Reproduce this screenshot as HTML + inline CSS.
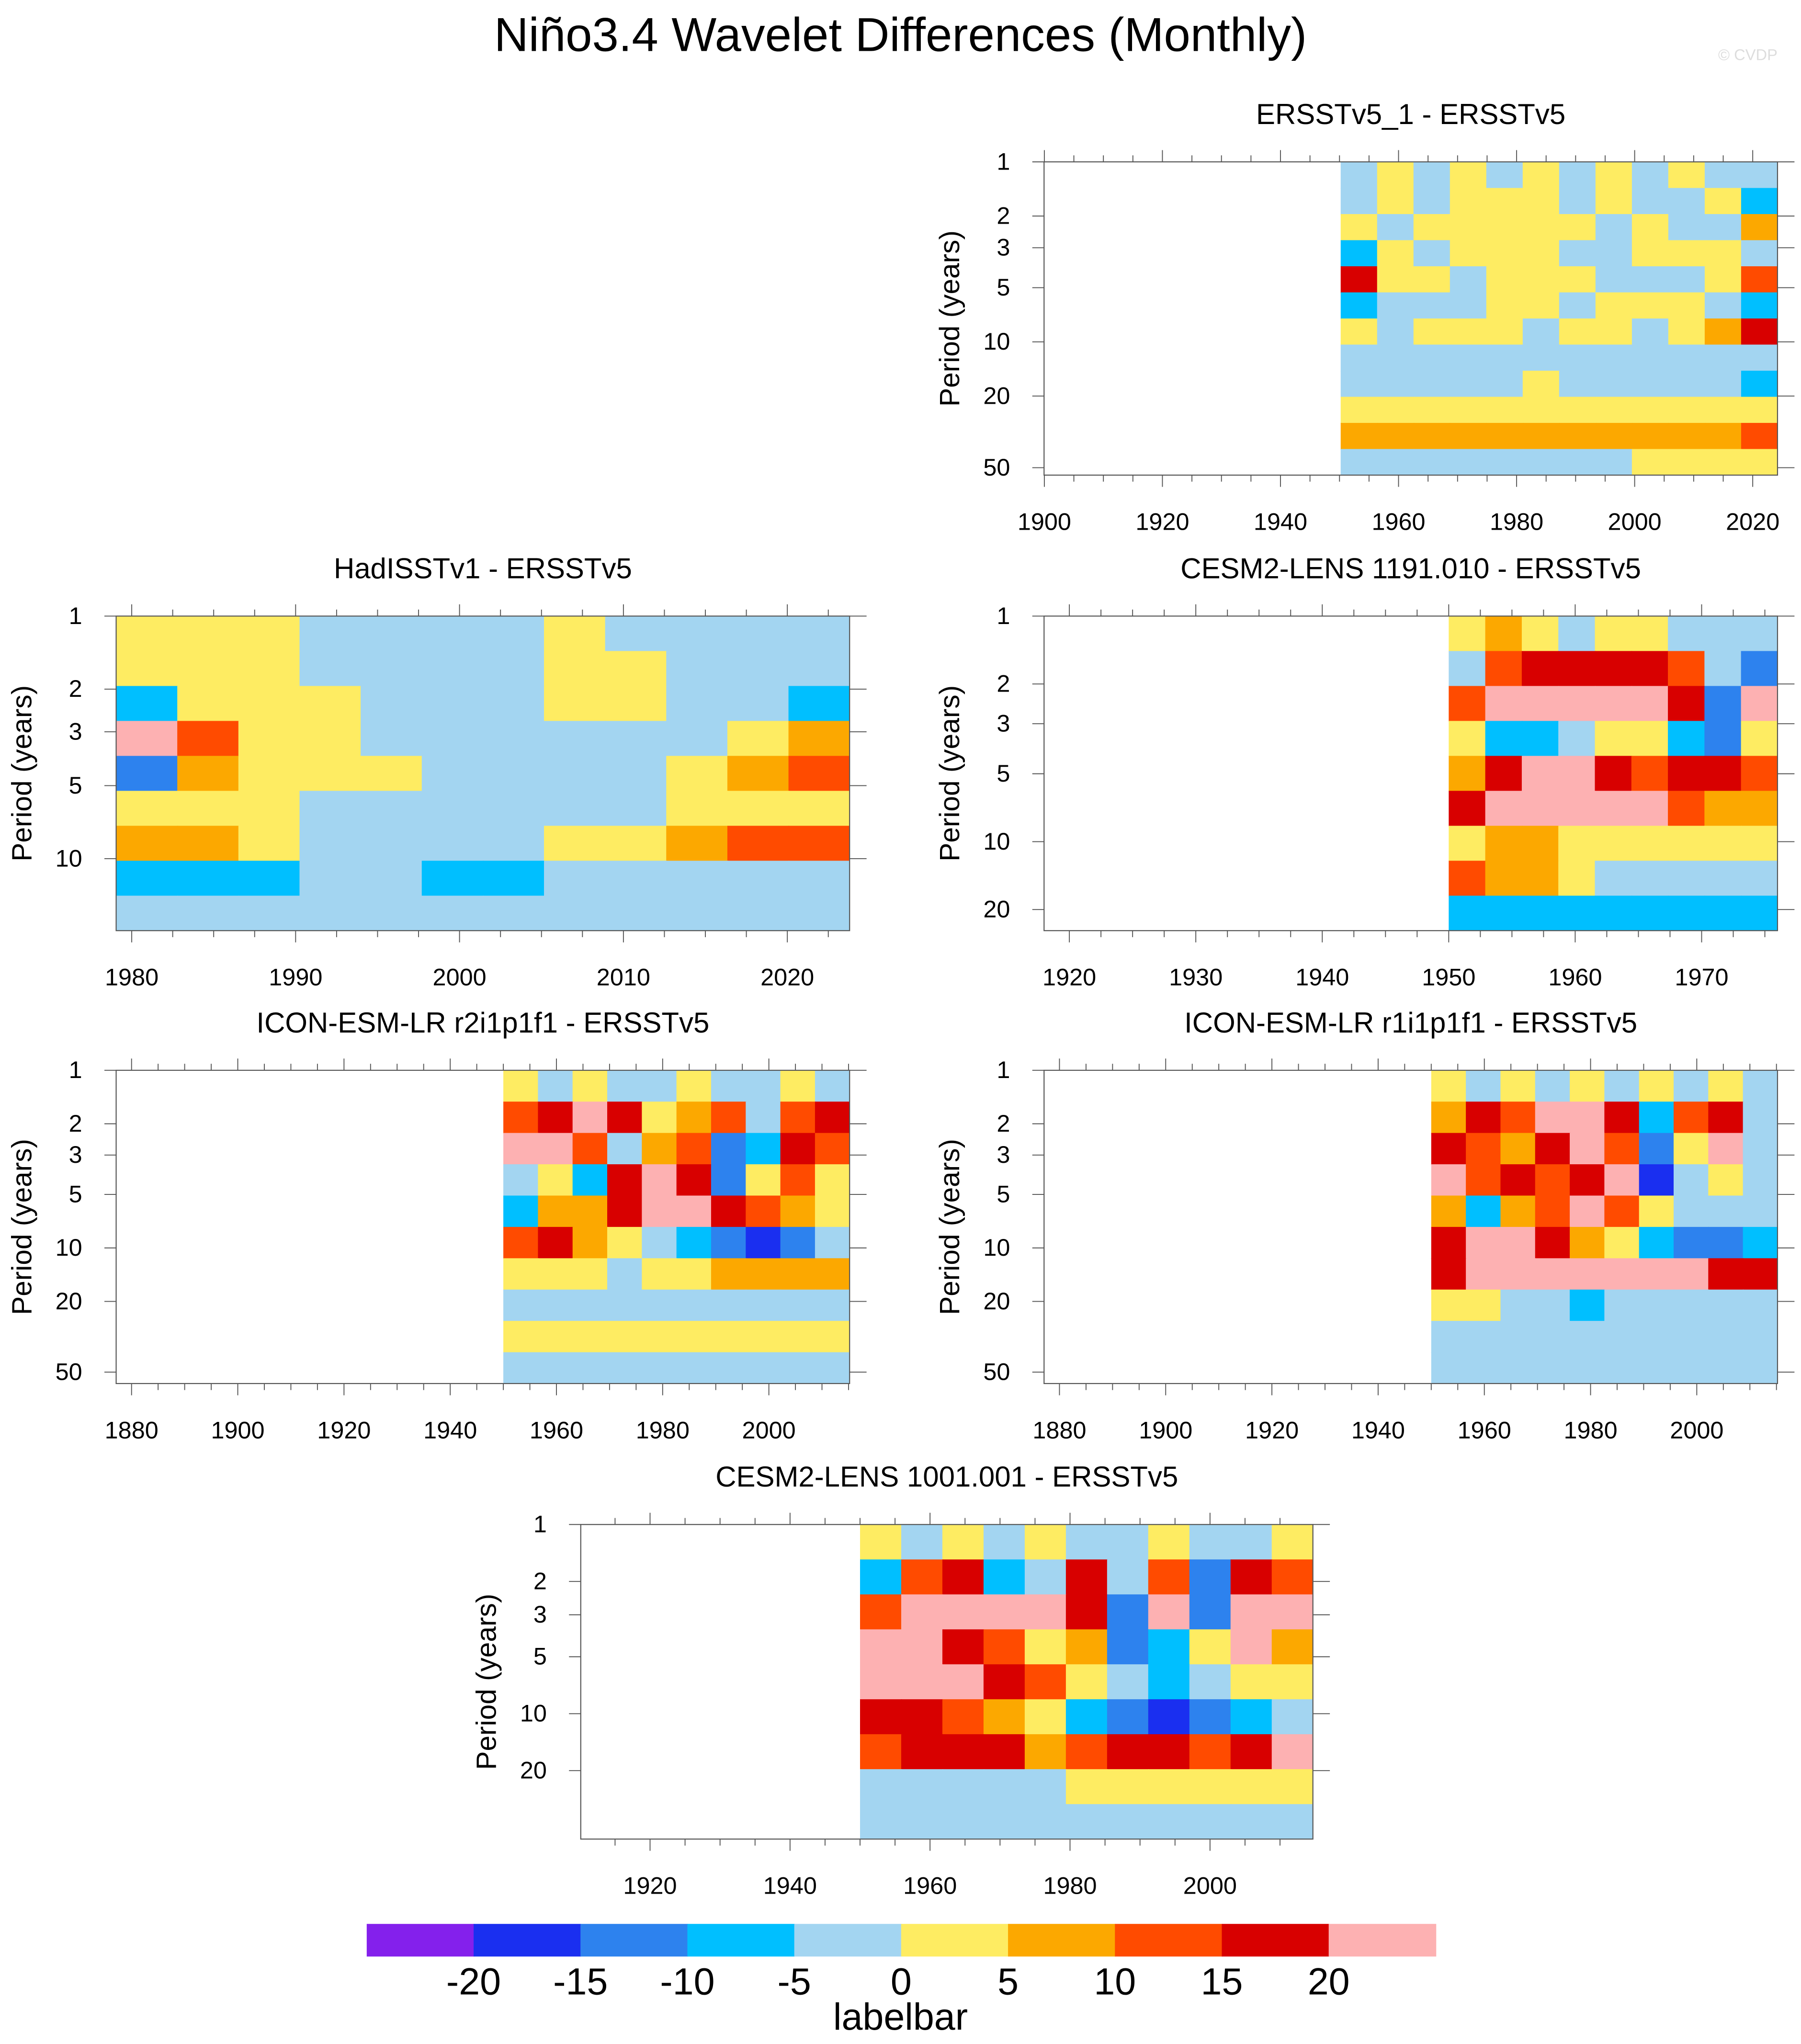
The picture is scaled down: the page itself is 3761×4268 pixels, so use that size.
<!DOCTYPE html>
<html><head><meta charset="utf-8"><style>
html,body{margin:0;padding:0;background:#fff;}
svg{display:block;font-family:"Liberation Sans",sans-serif;}
</style></head><body>
<svg id="chart" width="3761" height="4268" viewBox="0 0 1380 1566" xmlns="http://www.w3.org/2000/svg">
<text x="690" y="39" font-size="36.5" text-anchor="middle">Niño3.4 Wavelet Differences (Monthly)</text>
<text x="1362" y="46" font-size="12" fill="#ddd" text-anchor="end">© CVDP</text>
<g id="panels"></g>
<g id="cbar"></g>
</svg>
<script>
const levelColors = ["#8420ec","#1a2ff0","#2d82ee","#00bfff","#a3d5f1","#feec62","#fca800","#ff4b00","#d80000","#fdb1b2"];
const cbarLabels = ["-20","-15","-10","-5","0","5","10","15","20"];

const grid1 = [
[4,5,4,5,4,5,4,5,4,5,4,4],
[4,5,4,5,5,5,4,5,4,4,5,3],
[5,4,5,5,5,5,5,4,5,4,4,6],
[3,5,4,5,5,5,4,4,5,5,5,4],
[8,5,5,4,5,5,5,4,4,4,5,7],
[3,4,4,4,5,5,4,5,5,5,4,3],
[5,4,5,5,5,4,5,5,4,5,6,8],
[4,4,4,4,4,4,4,4,4,4,4,4],
[4,4,4,4,4,5,4,4,4,4,4,3],
[5,5,5,5,5,5,5,5,5,5,5,5],
[6,6,6,6,6,6,6,6,6,6,6,7],
[4,4,4,4,4,4,4,4,5,5,5,5]];
const grid2 = [
[5,5,5,4,4,4,4,5,4,4,4,4],
[5,5,5,4,4,4,4,5,5,4,4,4],
[3,5,5,5,4,4,4,5,5,4,4,3],
[9,7,5,5,4,4,4,4,4,4,5,6],
[2,6,5,5,5,4,4,4,4,5,6,7],
[5,5,5,4,4,4,4,4,4,5,5,5],
[6,6,5,4,4,4,4,5,5,6,7,7],
[3,3,3,4,4,3,3,4,4,4,4,4],
[4,4,4,4,4,4,4,4,4,4,4,4]];
const grid3 = [
[5,6,5,4,5,5,4,4,4],
[4,7,8,8,8,8,7,4,2],
[7,9,9,9,9,9,8,2,9],
[5,3,3,4,5,5,3,2,5],
[6,8,9,9,8,7,8,8,7],
[8,9,9,9,9,9,7,6,6],
[5,6,6,5,5,5,5,5,5],
[7,6,6,5,4,4,4,4,4],
[3,3,3,3,3,3,3,3,3]];
const grid4 = [
[5,4,5,4,4,5,4,4,5,4],
[7,8,9,8,5,6,7,4,7,8],
[9,9,7,4,6,7,2,3,8,7],
[4,5,3,8,9,8,2,5,7,5],
[3,6,6,8,9,9,8,7,6,5],
[7,8,6,5,4,3,2,1,2,4],
[5,5,5,4,5,5,6,6,6,6],
[4,4,4,4,4,4,4,4,4,4],
[5,5,5,5,5,5,5,5,5,5],
[4,4,4,4,4,4,4,4,4,4]];
const grid5 = [
[5,4,5,4,5,4,5,4,5,4],
[6,8,7,9,9,8,3,7,8,4],
[8,7,6,8,9,7,2,5,9,4],
[9,7,8,7,8,9,1,4,5,4],
[6,3,6,7,9,7,5,4,4,4],
[8,9,9,8,6,5,3,2,2,3],
[8,9,9,9,9,9,9,9,8,8],
[5,5,4,4,3,4,4,4,4,4],
[4,4,4,4,4,4,4,4,4,4],
[4,4,4,4,4,4,4,4,4,4]];
const grid6 = [
[5,4,5,4,5,4,4,5,4,4,5],
[3,7,8,3,4,8,4,7,2,8,7],
[7,9,9,9,9,8,2,9,2,9,9],
[9,9,8,7,5,6,2,3,5,9,6],
[9,9,9,8,7,5,4,3,4,5,5],
[8,8,7,6,5,3,2,1,2,3,4],
[7,8,8,8,6,7,8,8,7,8,9],
[4,4,4,4,4,5,5,5,5,5,5],
[4,4,4,4,4,4,4,4,4,4,4]];

const panelTitles = ["ERSSTv5_1 - ERSSTv5","HadISSTv1 - ERSSTv5","CESM2-LENS 1191.010 - ERSSTv5","ICON-ESM-LR r2i1p1f1 - ERSSTv5","ICON-ESM-LR r1i1p1f1 - ERSSTv5","CESM2-LENS 1001.001 - ERSSTv5"];
const yearRanges = [[1899.95,2024.2,1950.2],[1979.05,2023.8,1979.05],[1918,1976,1950],[1877.1,2015.2,1950],[1877.1,2015.2,1950],[1910.1,2014.7,1950]];
const periodRanges = [[1,55],[1,19.8],[1,24.8],[1,58],[1,58],[1,46]];
const yTickVals = [[1,2,3,5,10,20,50],[1,2,3,5,10],[1,2,3,5,10,20],[1,2,3,5,10,20,50],[1,2,3,5,10,20,50],[1,2,3,5,10,20]];
const xTickVals = [[1900,1920,1940,1960,1980,2000,2020],[1980,1990,2000,2010,2020],[1920,1930,1940,1950,1960,1970],[1880,1900,1920,1940,1960,1980,2000],[1880,1900,1920,1940,1960,1980,2000],[1920,1940,1960,1980,2000]];
const grids = [grid1,grid2,grid3,grid4,grid5,grid6];
const boxes = [[800,124,562,240],[89,472,562,241],[800,472,562,241],[89,820,562,240],[800,820,562,240],[445,1168,561,241]];

const NS="http://www.w3.org/2000/svg";
function mk(tag,attrs,parent){const e=document.createElementNS(NS,tag);for(const k in attrs)e.setAttribute(k,attrs[k]);parent.appendChild(e);return e;}
const root=document.getElementById('panels');
grids.forEach((g,i)=>{
  const [bx,by,bw,bh]=boxes[i];
  const [y0,y1,ds]=yearRanges[i];
  const [p0,p1]=periodRanges[i];
  const xs=yr=>bx+(yr-y0)/(y1-y0)*bw;
  const ys=p=>by+Math.log10(p/p0)/Math.log10(p1/p0)*bh;
  const pg=mk('g',{},root);
  
  
  const cid='clip'+i;
  const cp=mk('clipPath',{id:cid},pg);
  mk('rect',{x:bx,y:by,width:bw,height:bh},cp);
  const cells=mk('g',{'clip-path':'url(#'+cid+')'},pg);
  
  
  const dx0=xs(ds),rows=g.length,cols=g[0].length;
  const cw=(bx+bw-dx0)/cols,ch=bh/rows;
  g.forEach((row,r)=>row.forEach((v,c)=>{
    const rc=mk('rect',{x:dx0+c*cw,y:by+r*ch,width:cw+0.6,height:ch+0.6,fill:levelColors[v]},cells);
    
    
  }));
  const fr=mk('rect',{x:bx,y:by,width:bw,height:bh,fill:'none',stroke:'#555','stroke-width':0.8},pg);
  
  
  const step=xTickVals[i][1]-xTickVals[i][0];
  const minor=step/4;
  for(let yr=Math.ceil(y0/minor)*minor;yr<=y1;yr+=minor){
    const isMaj=Math.abs(yr/step-Math.round(yr/step))<1e-6;
    const L=isMaj?9:5,x=xs(yr);
    mk('line',{x1:x,x2:x,y1:by,y2:by-L,stroke:'#555','stroke-width':0.7},pg);
    mk('line',{x1:x,x2:x,y1:by+bh,y2:by+bh+L,stroke:'#555','stroke-width':0.7},pg);
  }
  xTickVals[i].forEach(v=>{
    const t=mk('text',{x:xs(v),y:by+bh+42,'font-size':18.5,'text-anchor':'middle'},pg);
    t.textContent=v;
    
    
  });
  yTickVals[i].forEach(v=>{
    const y=ys(v);
    mk('line',{x1:bx,x2:bx-9,y1:y,y2:y,stroke:'#555','stroke-width':0.7},pg);
    mk('line',{x1:bx+bw,x2:bx+bw+13,y1:y,y2:y,stroke:'#555','stroke-width':0.7},pg);
    const t=mk('text',{x:bx-26,y:y+6,'font-size':18.5,'text-anchor':'end'},pg);
    t.textContent=v;
    
    
  });
  const yt=mk('text',{x:0,y:0,'font-size':21.5,'text-anchor':'middle',transform:'translate('+(bx-65)+','+(by+bh/2)+') rotate(-90)'},pg);
  yt.textContent='Period (years)';
  
  
  const tt=mk('text',{x:bx+bw/2,y:by-29,'font-size':22,'text-anchor':'middle'},pg);
  tt.textContent=panelTitles[i];
  
  
});
const cb=document.getElementById('cbar');


const cbx=281,cby=1474,cbw=81.9,cbh=25;
levelColors.forEach((c,k)=>{
  const r=mk('rect',{x:cbx+k*cbw,y:cby,width:cbw+0.5,height:cbh,fill:c},cb);
  
  
});
cbarLabels.forEach((l,k)=>{
  const t=mk('text',{x:cbx+(k+1)*cbw,y:cby+54,'font-size':29,'text-anchor':'middle'},cb);
  t.textContent=l;
  
  
});
const lt=mk('text',{x:690,y:1555,'font-size':29,'text-anchor':'middle'},cb);
lt.textContent='labelbar';


</script>
</body></html>
